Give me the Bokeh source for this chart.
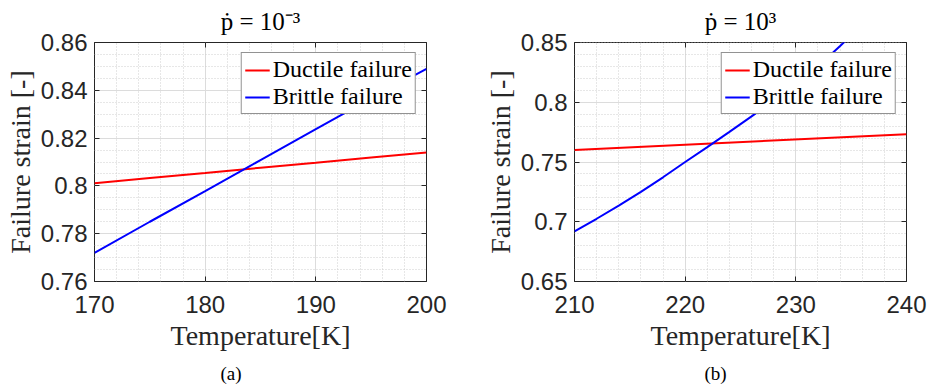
from bokeh.plotting import figure
from bokeh.layouts import row
from bokeh.models import (FixedTicker, LinearAxis, Title, Legend, LegendItem, Range1d)
from bokeh.embed import file_html
from bokeh.resources import INLINE

# ---------------- data ----------------
# panel (a): strain rate 1e-3
temp_a = [170, 175, 180, 185, 190, 195, 200]
ductile_a = [0.8011, 0.8033, 0.8054, 0.8076, 0.8097, 0.8119, 0.8140]
brittle_a = [0.7720, 0.7850, 0.7978, 0.8108, 0.8238, 0.8366, 0.8490]

# panel (b): strain rate 1e3
temp_b = [210, 212, 214, 216, 218, 220, 222, 224, 226, 228, 230, 232, 234, 235]
brittle_b = [0.6920, 0.7025, 0.7135, 0.7250, 0.7372, 0.7500, 0.7625, 0.7752,
             0.7882, 0.8015, 0.8152, 0.8300, 0.8470, 0.8560]
temp_b_d = [210, 240]
ductile_b = [0.7600, 0.7733]

xticks_a = [170, 180, 190, 200]
yticks_a = [0.76, 0.78, 0.80, 0.82, 0.84, 0.86]
ylabels_a = ["0.76", "0.78", "0.8", "0.82", "0.84", "0.86"]
xticks_b = [210, 220, 230, 240]
yticks_b = [0.65, 0.70, 0.75, 0.80, 0.85]
ylabels_b = ["0.65", "0.7", "0.75", "0.8", "0.85"]

titles = ["ṗ = 10⁻³", "ṗ = 10³"]
captions = ["(a)", "(b)"]
series_names = ["Ductile failure", "Brittle failure"]

SERIF = "Liberation Serif"
SANS = "Liberation Sans"
TXT = "#262626"


def make_panel(xd, yd, xb, yb, xr, yr, xt, yt, ylabs, xminor, yminor, title, caption,
               left_border, right_border, cap_offset):
    p = figure(width=464, height=390, output_backend="svg", toolbar_location=None,
               x_range=Range1d(*xr), y_range=Range1d(*yr),
               min_border_left=left_border, min_border_right=right_border,
               min_border_top=42, min_border_bottom=109,
               frame_width=332, frame_height=239)
    p.title.text = title
    p.title.text_font = SERIF
    p.title.text_font_size = "25px"
    p.title.text_font_style = "normal"
    p.title.align = "center"
    p.title.vertical_align = "top"
    p.title.text_color = "black"
    p.title.standoff = 12

    p.outline_line_color = "#262626"
    p.outline_line_width = 1
    p.background_fill_color = "white"
    p.border_fill_color = "white"

    xtick = FixedTicker(ticks=xt, minor_ticks=xminor)
    ytick = FixedTicker(ticks=yt, minor_ticks=yminor)
    p.xaxis.ticker = xtick
    p.yaxis.ticker = ytick
    p.yaxis.major_label_overrides = {v: s for v, s in zip(yt, ylabs)}

    for ax in (p.xaxis[0], p.yaxis[0]):
        ax.axis_line_color = None
        ax.major_tick_in = 5
        ax.major_tick_out = 0
        ax.minor_tick_in = 0
        ax.minor_tick_out = 0
        ax.major_tick_line_color = "#262626"
        ax.major_label_text_font = SANS
        ax.major_label_text_font_size = "24px"
        ax.major_label_text_color = TXT
        ax.axis_label_text_font = SERIF
        ax.axis_label_text_font_size = "28px"
        ax.axis_label_text_font_style = "normal"
        ax.axis_label_text_color = TXT
    p.xaxis.axis_label = "Temperature[K]"
    p.yaxis.axis_label = "Failure strain [-]"
    p.xaxis.major_label_standoff = 14
    p.xaxis.axis_label_standoff = 4
    p.yaxis.major_label_standoff = 7
    p.yaxis.axis_label_standoff = 2

    # top / right ticks (box on)
    for side, t in (("above", xtick), ("right", ytick)):
        ax = LinearAxis(ticker=t)
        ax.axis_line_color = None
        ax.major_tick_in = 5
        ax.major_tick_out = 0
        ax.minor_tick_in = 0
        ax.minor_tick_out = 0
        ax.major_tick_line_color = "#262626"
        ax.major_label_text_font_size = "0px"
        ax.major_label_text_color = None
        ax.major_label_standoff = 0
        p.add_layout(ax, side)

    for g in (p.xgrid[0], p.ygrid[0]):
        g.grid_line_color = "#dcdcdc"
        g.grid_line_width = 1
        g.minor_grid_line_color = "#cfcfcf"
        g.minor_grid_line_dash = "1 2"
        g.minor_grid_line_width = 1

    r1 = p.line(xd, yd, line_color="#ff0000", line_width=2)
    r2 = p.line(xb, yb, line_color="#0000ff", line_width=2)

    legend = Legend(items=[LegendItem(label=series_names[0], renderers=[r1]),
                           LegendItem(label=series_names[1], renderers=[r2])],
                    location="top_right")
    legend.label_text_font = SERIF
    legend.label_text_font_size = "24px"
    legend.label_text_color = "black"
    legend.border_line_color = "#262626"
    legend.border_line_width = 1
    legend.background_fill_color = "white"
    legend.background_fill_alpha = 1
    legend.glyph_width = 25
    legend.glyph_height = 26
    legend.label_standoff = 3
    legend.spacing = 0
    legend.padding = 3
    legend.margin = 10
    legend.label_height = 26
    p.add_layout(legend, "center")

    cap = Title(text=caption, align="left", offset=cap_offset, text_font=SERIF,
                text_font_size="19px", text_font_style="normal", text_color="black",
                standoff=14)
    p.add_layout(cap, "below")
    return p


xminor_a = [170 + 2 * i for i in range(16)]
yminor_a = [0.76 + 0.005 * i for i in range(21)]
xminor_b = [210 + 2 * i for i in range(16)]
yminor_b = [0.65 + 0.01 * i for i in range(21)]

pa = make_panel(temp_a, ductile_a, temp_a, brittle_a, (170, 200), (0.76, 0.86),
                xticks_a, yticks_a, ylabels_a, xminor_a, yminor_a,
                titles[0], captions[0], 94, 38, 126)
pb = make_panel(temp_b_d, ductile_b, temp_b, brittle_b, (210, 240), (0.65, 0.85),
                xticks_b, yticks_b, ylabels_b, xminor_b, yminor_b,
                titles[1], captions[1], 110, 22, 130)

layout = row(pa, pb)
open("out.html", "w").write(file_html(layout, INLINE))
